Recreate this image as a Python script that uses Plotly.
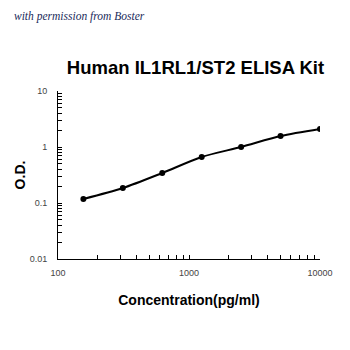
import plotly.graph_objects as go

concentration = [156.25, 312.5, 625, 1250, 2500, 5000, 10000]
od = [0.118, 0.185, 0.343, 0.663, 1.0, 1.57, 2.1]

x_tickvals = [100, 200, 300, 400, 500, 600, 700, 800, 900, 1000, 2000, 3000, 4000, 5000, 6000, 7000, 8000, 9000, 10000]
x_ticktext = ["100", "", "", "", "", "", "", "", "", "1000", "", "", "", "", "", "", "", "", "10000"]
y_tickvals = [0.01, 0.02, 0.03, 0.04, 0.05, 0.06, 0.07, 0.08, 0.09, 0.1, 0.2, 0.3, 0.4, 0.5, 0.6, 0.7, 0.8, 0.9,
              1, 2, 3, 4, 5, 6, 7, 8, 9, 10]
y_ticktext = ["0.01"] + [""] * 8 + ["0.1"] + [""] * 8 + ["1"] + [""] * 8 + ["10"]

L, R, T, B = 58, 30, 91, 91
W = H = 350

fig = go.Figure()
fig.add_trace(go.Scatter(
    x=concentration, y=od, mode="lines+markers",
    line=dict(color="black", width=2, shape="spline", smoothing=0.8),
    marker=dict(color="black", size=6),
    showlegend=False,
))

fig.update_layout(
    width=W, height=H,
    margin=dict(l=L, r=R, t=T, b=B),
    paper_bgcolor="white", plot_bgcolor="white",
    font=dict(family="Liberation Sans, Arial, sans-serif", size=9, color="#444"),
    title=dict(text="<b>Human IL1RL1/ST2 ELISA Kit</b>", x=195.5 / W, xanchor="center",
               y=1 - 68 / H, yanchor="middle",
               font=dict(size=18.5, color="black")),
    xaxis=dict(type="log", range=[2, 4], tickvals=x_tickvals, ticktext=x_ticktext,
               ticks="inside", ticklen=4, tickcolor="black", showline=True, linecolor="black",
               linewidth=1, showgrid=False, zeroline=False, ticklabelstandoff=5,
               title=dict(text="<b>Concentration(pg/ml)</b>", font=dict(size=14, color="black"), standoff=18)),
    yaxis=dict(type="log", range=[-2, 1], tickvals=y_tickvals, ticktext=y_ticktext,
               ticks="inside", ticklen=4, tickcolor="black", showline=True, linecolor="black",
               linewidth=1, showgrid=False, zeroline=False, ticklabelstandoff=8,
               title=dict(text="<b>O.D.</b>", font=dict(size=14, color="black"), standoff=0)),
)
fig.add_annotation(text="<i>with permission from Boster</i>", xref="paper", yref="paper",
                   x=(12 - L) / (W - L - R), y=(H - 16 - B) / (H - T - B),
                   xanchor="left", yanchor="middle", showarrow=False,
                   font=dict(family="Liberation Serif, serif", size=11.5, color="#1a2a5a"))

fig.write_html("out.html")
